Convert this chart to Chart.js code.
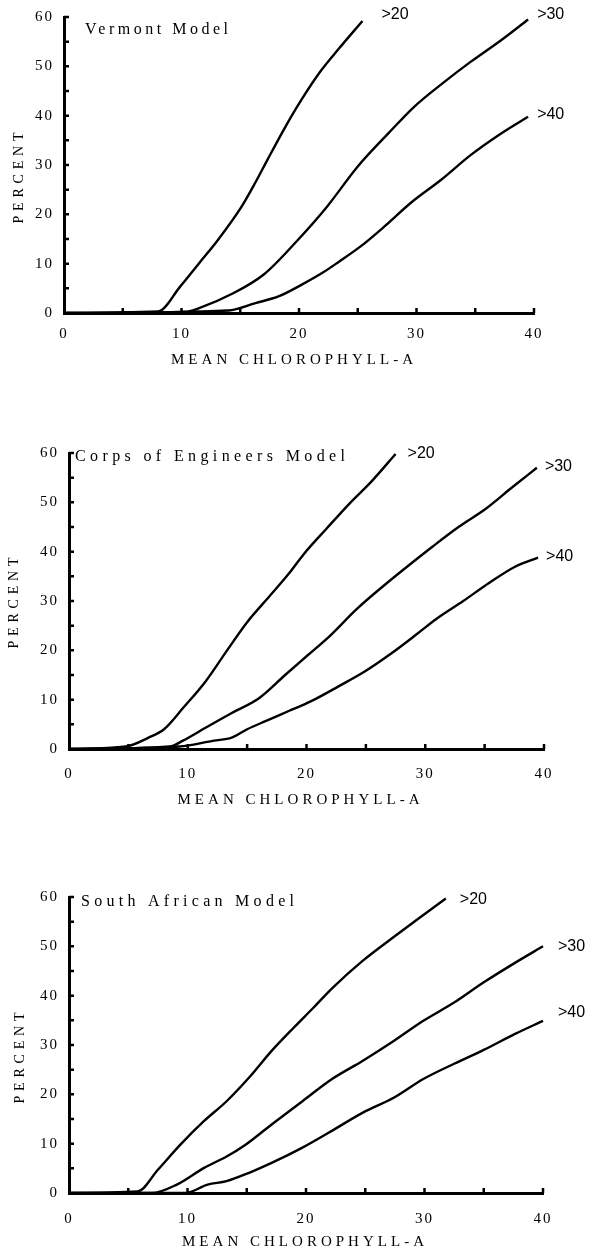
<!DOCTYPE html>
<html>
<head>
<meta charset="utf-8">
<script src="https://cdn.jsdelivr.net/npm/chart.js@4"></script>
<style>
  body { margin: 0; background: #fff; width: 595px; height: 1251px; position: relative; overflow: hidden; }
  canvas { position: absolute; left: 0; }
</style>
</head>
<body>
<canvas id="c1" width="595" height="400" style="top:0"></canvas>
<canvas id="c2" width="595" height="400" style="top:420px"></canvas>
<canvas id="c3" width="595" height="411" style="top:840px"></canvas>
<script>
// tick labels
const xTickValues = [0, 10, 20, 30, 40];
const yTickValues = [0, 10, 20, 30, 40, 50, 60];
const minorStep = 5;
const seriesNames = ['>20', '>30', '>40'];

// Vermont Model
const verm20x = [0, 8, 9.9, 11.5, 13.1, 15.1, 16.3, 17.3, 18.9, 20.2, 21.8, 23.4, 25.4];
const verm20y = [0, 0.3, 5.4, 10.1, 14.8, 21.5, 26.5, 31.0, 38.0, 43.2, 48.9, 53.6, 59.2];
const verm30x = [0, 10.3, 11.5, 14.4, 17.0, 19.9, 22.4, 25.0, 27.6, 29.8, 32.4, 34.6, 37.2, 39.5];
const verm30y = [0, 0.2, 1.0, 4.0, 7.8, 14.8, 21.6, 29.7, 36.4, 41.8, 46.9, 50.9, 55.3, 59.5];
const verm40x = [0, 14, 16.3, 18.3, 20.2, 22.1, 23.4, 25.3, 27.3, 29.5, 32.1, 34.6, 37.2, 39.5];
const verm40y = [0, 0.5, 2.0, 3.4, 5.7, 8.3, 10.4, 13.6, 17.6, 22.3, 27.0, 32.0, 36.4, 39.8];

// Corps of Engineers Model
const corps20x = [0, 4.8, 6.7, 8.0, 9.6, 11.5, 13.4, 15.0, 16.9, 18.5, 19.8, 21.7, 23.6, 25.5, 27.5];
const corps20y = [0, 0.5, 2.3, 4.0, 8.3, 13.7, 20.3, 25.7, 31.0, 35.5, 39.6, 44.7, 49.7, 54.3, 59.8];
const corps30x = [0, 8.5, 9.6, 11.5, 13.7, 16.0, 18.2, 20.1, 22.0, 24.2, 26.5, 28.7, 30.6, 32.8, 35.1, 37.3, 39.4];
const corps30y = [0, 0.5, 1.7, 4.3, 7.3, 10.3, 15.0, 19.0, 23.0, 28.3, 33.1, 37.4, 41.0, 45.0, 48.7, 53.0, 57.0];
const corps40x = [0, 9.3, 12.2, 13.7, 15.0, 16.6, 18.5, 20.4, 22.7, 24.9, 27.1, 29.3, 30.9, 33.2, 35.4, 37.6, 39.5];
const corps40y = [0, 0.5, 1.7, 2.3, 4.0, 5.7, 7.7, 9.7, 12.7, 15.7, 19.3, 23.3, 26.3, 30.0, 33.7, 37.0, 38.8];

// South African Model
const safr20x = [0, 5.8, 7.5, 9.4, 11.4, 13.3, 15.2, 17.1, 19.0, 20.6, 22.2, 24.8, 27.4, 29.3, 31.8];
const safr20y = [0, 0.3, 4.7, 9.8, 14.6, 18.6, 23.4, 28.8, 33.6, 37.5, 41.5, 47.1, 51.9, 55.3, 59.7];
const safr30x = [0, 7.0, 9.1, 11.4, 13.3, 14.9, 17.1, 19.7, 22.2, 24.8, 27.4, 29.9, 32.5, 35.0, 37.6, 40];
const safr30y = [0, 0, 1.7, 5.1, 7.4, 9.8, 13.9, 18.6, 23.1, 26.8, 30.8, 34.9, 38.6, 42.7, 46.6, 50.0];
const safr40x = [0, 9.8, 11.7, 13.3, 15.2, 17.1, 19.7, 21.9, 24.8, 27.4, 29.9, 32.5, 35.0, 37.6, 40];
const safr40y = [0, 0, 1.7, 2.4, 4.1, 6.1, 9.2, 12.2, 16.3, 19.3, 23.1, 26.2, 29.0, 32.2, 34.9];

const SERIF = '"Liberation Serif", "DejaVu Serif", serif';

function pts(xs, ys) {
    return xs.map((v, i) => ({ x: v, y: ys[i] }));
}

// typewriter-like spacing: stretch the text to a given width
function spreadText(ctx, text, cx, cy, width) {
    ctx.letterSpacing = '0px';
    const w = ctx.measureText(text).width;
    const sp = Math.max(0, (width - w) / (text.length - 1));
    ctx.letterSpacing = sp + 'px';
    ctx.textAlign = 'left';
    ctx.fillText(text, cx - width / 2, cy);
}

// draws inside tick marks, axis titles, model name and curve labels
const decor = {
    id: 'decor',
    beforeDraw(chart) {
        chart.ctx.letterSpacing = '2px';
    },
    beforeDatasetsDraw(chart) {
        chart.ctx.letterSpacing = '0px';
    },
    afterDraw(chart, args, o) {
        const { ctx, chartArea: a, scales: { x, y } } = chart;
        ctx.save();
        ctx.strokeStyle = '#000';
        ctx.lineWidth = 2.5;
        ctx.beginPath();
        for (let v = minorStep; v <= x.max; v += minorStep) {
            const px = x.getPixelForValue(v);
            ctx.moveTo(px, a.bottom);
            ctx.lineTo(px, a.bottom - 5);
        }
        for (let v = minorStep; v <= y.max; v += minorStep) {
            const py = y.getPixelForValue(v);
            ctx.moveTo(a.left, py);
            ctx.lineTo(a.left + 5, py);
        }
        ctx.stroke();

        ctx.fillStyle = '#000';
        ctx.textBaseline = 'middle';

        // x title
        ctx.font = '15px ' + SERIF;
        spreadText(ctx, 'MEAN CHLOROPHYLL-A', (a.left + a.right) / 2 + o.xTitleDx, a.bottom + o.xTitleDy, 242);

        // y title
        ctx.save();
        ctx.translate(o.yTitleX, (a.top + a.bottom) / 2 + o.yTitleDy);
        ctx.rotate(-Math.PI / 2);
        ctx.font = '14px ' + SERIF;
        spreadText(ctx, 'PERCENT', 0, 0, 91);
        ctx.restore();

        // model name
        ctx.font = '16px ' + SERIF;
        spreadText(ctx, o.name, a.left + o.nameDx + o.nameWidth / 2, a.top + o.nameDy, o.nameWidth);

        // curve labels at the end of each line
        ctx.font = '16px "Liberation Sans", Arial, sans-serif';
        ctx.letterSpacing = '0px';
        ctx.textAlign = 'left';
        chart.data.datasets.forEach((ds, i) => {
            const meta = chart.getDatasetMeta(i);
            const last = meta.data[meta.data.length - 1];
            const off = o.labelOffsets[i];
            ctx.fillText(ds.label, last.x + off[0], last.y + off[1]);
        });
        ctx.restore();
    }
};

function makeChart(id, series, opt) {
    const datasets = series.map((s, i) => ({
        label: seriesNames[i],
        data: pts(s[0], s[1]),
        borderColor: '#000',
        borderWidth: 2.4,
        pointRadius: 0,
        cubicInterpolationMode: 'monotone',
        clip: false
    }));

    return new Chart(document.getElementById(id), {
        type: 'line',
        data: { datasets },
        plugins: [decor],
        options: {
            responsive: false,
            animation: false,
            events: [],
            layout: { padding: { left: 0, right: 595 - opt.right, top: opt.top, bottom: 0 } },
            plugins: {
                legend: { display: false },
                tooltip: { enabled: false },
                decor: opt
            },
            scales: {
                x: {
                    type: 'linear',
                    min: 0,
                    max: 40,
                    afterBuildTicks: s => { s.ticks = xTickValues.map(v => ({ value: v })); },
                    afterFit: s => { s.height = opt.xAxisHeight; },
                    grid: { display: false },
                    border: { display: true, color: '#000', width: 3 },
                    ticks: {
                        color: '#000',
                        padding: opt.xTickPad,
                        maxRotation: 0,
                        font: { family: SERIF, size: 15 }
                    }
                },
                y: {
                    type: 'linear',
                    min: 0,
                    max: 60,
                    afterBuildTicks: s => { s.ticks = yTickValues.map(v => ({ value: v })); },
                    afterFit: s => { s.width = opt.left; },
                    grid: { display: false },
                    border: { display: true, color: '#000', width: 3 },
                    ticks: {
                        color: '#000',
                        padding: 2,
                        font: { family: SERIF, size: 15 }
                    }
                }
            }
        }
    });
}

makeChart('c1', [[verm20x, verm20y], [verm30x, verm30y], [verm40x, verm40y]], {
    name: 'Vermont Model', nameWidth: 143,
    left: 64, right: 534, top: 17, xAxisHeight: 87, xTickPad: 4,
    nameDx: 21, nameDy: 13,
    xTitleDx: -7, xTitleDy: 47,
    yTitleX: 19, yTitleDy: 13,
    labelOffsets: [[19, -6], [9, -5], [9, -2]]
});

makeChart('c2', [[corps20x, corps20y], [corps30x, corps30y], [corps40x, corps40y]], {
    name: 'Corps of Engineers Model', nameWidth: 270,
    left: 69, right: 544, top: 33, xAxisHeight: 71, xTickPad: 8,
    nameDx: 6, nameDy: 4,
    xTitleDx: -8, xTitleDy: 51,
    yTitleX: 14, yTitleDy: 2,
    labelOffsets: [[12, 0], [8, -1], [8, -1]]
});

makeChart('c3', [[safr20x, safr20y], [safr30x, safr30y], [safr40x, safr40y]], {
    name: 'South African Model', nameWidth: 213,
    left: 69, right: 543, top: 57, xAxisHeight: 58, xTickPad: 9,
    nameDx: 12, nameDy: 5,
    xTitleDx: -3, xTitleDy: 49,
    yTitleX: 20, yTitleDy: 13,
    labelOffsets: [[14, 1], [15, 0], [15, -8]]
});
</script>
</body>
</html>
